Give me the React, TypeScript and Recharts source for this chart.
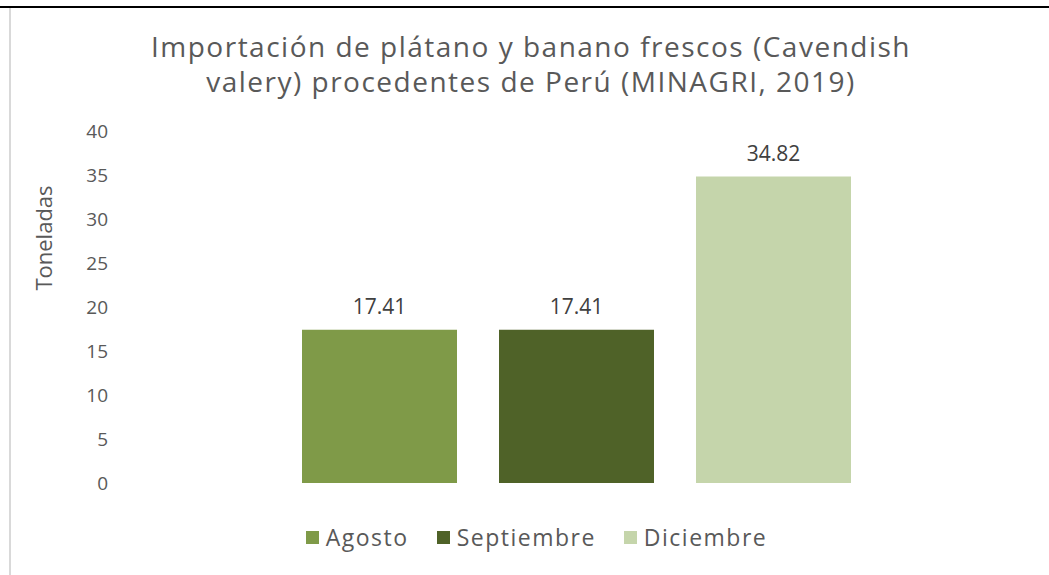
import React from 'react';
import { BarChart, Bar, XAxis, YAxis, LabelList, Legend } from 'recharts';

const categories = ['Perú'];
const seriesNames = ['Agosto', 'Septiembre', 'Diciembre'];
const seriesValues = [17.41, 17.41, 34.82];
const seriesColors = ['#7f9a48', '#4f6228', '#c5d5ab'];
const yTicks = [0, 5, 10, 15, 20, 25, 30, 35, 40];

const data = categories.map((name) => {
  const row: Record<string, string | number> = { name };
  seriesNames.forEach((s, i) => {
    row[s] = seriesValues[i];
  });
  return row;
});

const font = '"Open Sans", "Noto Sans", sans-serif';
const gray = '#595959';

function LegendContent() {
  return (
    <div
      style={{
        display: 'flex',
        justifyContent: 'center',
        fontFamily: font,
        fontSize: 23,
        letterSpacing: 1.5,
        color: gray,
      }}
    >
      {seriesNames.map((s, i) => (
        <div key={s} style={{ display: 'flex', alignItems: 'center', marginLeft: i ? 28 : 0 }}>
          <span style={{ width: 13, height: 13, background: seriesColors[i], marginRight: 7, display: 'inline-block' }} />
          <span>{s}</span>
        </div>
      ))}
    </div>
  );
}

export default function App() {
  return (
    <div style={{ position: 'absolute', left: 0, top: 0, width: 1049, height: 575, background: '#fff' }}>
      <div style={{ position: 'absolute', left: 0, top: 6, width: 1049, height: 2, background: '#000' }} />
      <div style={{ position: 'absolute', left: 9, top: 8, width: 2, height: 567, background: '#d9d9d9' }} />
      <div
        style={{
          position: 'absolute',
          left: 9,
          top: 29,
          width: 1044,
          textAlign: 'center',
          fontFamily: font,
          fontSize: 28,
          letterSpacing: 1.5,
          lineHeight: '35px',
          color: gray,
        }}
      >
        Importación de plátano y banano frescos (Cavendish
        <br />
        valery) procedentes de Perú (MINAGRI, 2019)
      </div>
      <div
        style={{
          position: 'absolute',
          left: 43,
          top: 238,
          transform: 'translate(-50%, -50%) rotate(-90deg)',
          fontFamily: font,
          fontSize: 22,
          color: gray,
          whiteSpace: 'nowrap',
        }}
      >
        Toneladas
      </div>
      <BarChart
        width={1049}
        height={575}
        data={data}
        margin={{ top: 131, right: 27, bottom: 92, left: 0 }}
        barSize={155}
        barGap={42}
        style={{ position: 'absolute', left: 0, top: 0 }}
      >
        <XAxis dataKey="name" tick={false} tickLine={false} height={0} axisLine={{ stroke: '#d9d9d9', strokeWidth: 2 }} />
        <YAxis
          width={130}
          domain={[0, 40]}
          ticks={yTicks}
          axisLine={false}
          tickLine={false}
          tickSize={0}
          tickMargin={22}
          tick={{ fill: gray, fontSize: 19, fontFamily: font }}
        />
        <Legend
          layout="horizontal"
          verticalAlign="middle"
          align="center"
          content={<LegendContent />}
          wrapperStyle={{ position: 'absolute', top: 521, left: 12, width: 1049 }}
        />
        {seriesNames.map((s, i) => (
          <Bar key={s} dataKey={s} fill={seriesColors[i]} isAnimationActive={false}>
            <LabelList dataKey={s} position="top" offset={16} fill="#404040" fontSize={21} fontFamily={font} />
          </Bar>
        ))}
      </BarChart>
    </div>
  );
}
